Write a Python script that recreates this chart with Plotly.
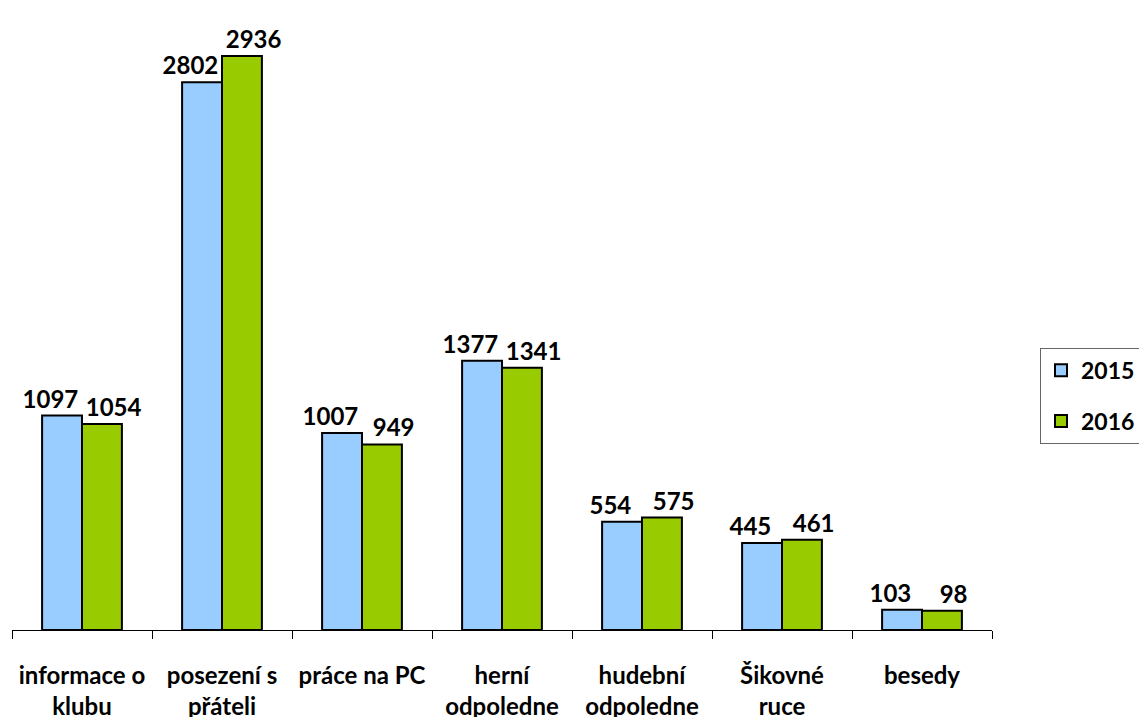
import plotly.graph_objects as go

# data
categories = [
    "informace o<br>klubu",
    "posezení s<br>přáteli",
    "práce na PC",
    "herní<br>odpoledne",
    "hudební<br>odpoledne",
    "Šikovné<br>ruce",
    "besedy",
]
values_2015 = [1097, 2802, 1007, 1377, 554, 445, 103]
values_2016 = [1054, 2936, 949, 1341, 575, 461, 98]

FONT = "Lato, Calibri, sans-serif"
PAD = "\u00a0" * 4  # nudges the two labels of a pair apart


def _bar(name, values, color, labels):
    return go.Bar(
        name=name,
        legendgroup=name,
        x=categories,
        y=values,
        marker=dict(color=color, line=dict(color="black", width=2)),
        text=labels,
        textposition="outside",
        constraintext="none",
        textfont=dict(family=FONT, size=24, color="black", weight="bold"),
        cliponaxis=False,
    )


fig = go.Figure([
    _bar("2015", values_2015, "#99CCFF", [f"{v}{PAD}" for v in values_2015]),
    _bar("2016", values_2016, "#99CC00", [f"{PAD}{v}" for v in values_2016]),
])

fig.update_layout(
    width=1139,
    height=717,
    barmode="group",
    bargap=0.43,
    bargroupgap=0,
    plot_bgcolor="white",
    paper_bgcolor="white",
    font=dict(family=FONT, color="black"),
    margin=dict(l=12, r=147, t=20, b=87, autoexpand=False),
    showlegend=True,
    legend=dict(
        x=1.049,
        y=0.384,
        xanchor="left",
        yanchor="middle",
        bordercolor="#666666",
        borderwidth=1,
        font=dict(family=FONT, size=23, weight="bold"),
        tracegroupgap=18,
    ),
)

fig.update_xaxes(
    showline=True,
    linecolor="black",
    linewidth=1,
    ticks="outside",
    tickson="boundaries",
    ticklen=8,
    tickcolor="black",
    tickangle=0,
    ticklabelstandoff=24,
    tickfont=dict(family=FONT, size=24, weight="bold"),
    showgrid=False,
    automargin=False,
)
fig.update_yaxes(
    range=[0, 3120],
    visible=False,
    showgrid=False,
    automargin=False,
)

# page has a default 8px body margin; drop it so the figure fills the window
fig.write_html(
    "out.html",
    config={"displayModeBar": False},
    post_script="document.body.style.margin = '0';",
)
